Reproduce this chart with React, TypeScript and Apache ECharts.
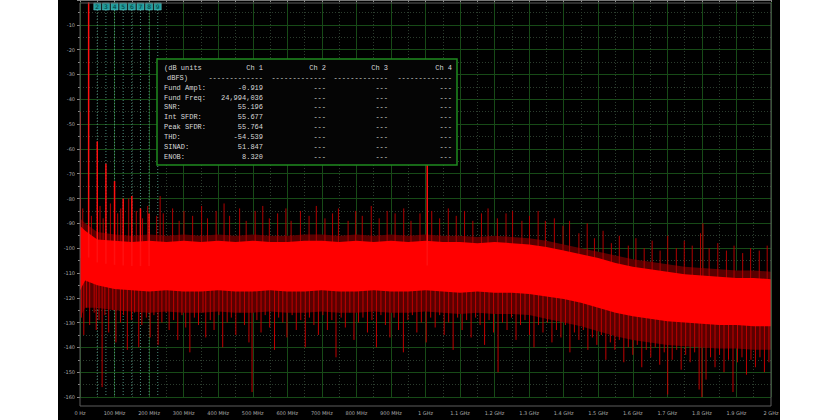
import React, { useEffect, useRef } from "react";
import * as echarts from "echarts";

// ---- axis ticks ----
const xTickLabels = ["0 Hz", "100 MHz", "200 MHz", "300 MHz", "400 MHz", "500 MHz", "600 MHz", "700 MHz", "800 MHz", "900 MHz", "1 GHz", "1.1 GHz", "1.2 GHz", "1.3 GHz", "1.4 GHz", "1.5 GHz", "1.6 GHz", "1.7 GHz", "1.8 GHz", "1.9 GHz", "2 GHz"];

// ---- noise floor envelope (MHz, dBFS) ----
const envFreq = [0, 15, 50, 100, 150, 200, 250, 300, 350, 400, 450, 500, 550, 600, 650, 700, 750, 800, 850, 900, 950, 1000, 1050, 1100, 1150, 1200, 1250, 1300, 1350, 1400, 1450, 1500, 1550, 1600, 1650, 1700, 1750, 1800, 1850, 1900, 1950, 2000];
const coreTop = [-91, -93, -96.5, -97, -97.5, -97, -97.5, -97, -97.5, -97, -97.5, -97, -97.5, -97.5, -97, -97, -97.5, -97, -97.5, -97, -97.5, -97, -97.5, -97.5, -98, -97.5, -98, -98.5, -99.5, -101, -102.5, -104, -106, -107.5, -108.5, -109.5, -110.5, -111, -111.5, -112, -112, -112.5];
const coreBot = [-117, -113, -115, -116.5, -117, -117.5, -117, -117.5, -117.5, -117, -117.5, -117.5, -117, -117.5, -117.5, -117, -117.5, -117.5, -117, -117.5, -117.5, -117, -117.5, -118, -117.5, -118, -118, -118.5, -119.5, -120.5, -122, -124, -126, -127.5, -128.5, -129.5, -130, -130.5, -131, -131, -131.5, -131.5];
const fringeTop = [-88, -90, -93.5, -94.5, -95, -94.5, -95, -94.5, -95, -94.5, -95, -94.5, -95, -95, -94.5, -94.5, -95, -94.5, -95, -94.5, -95, -94.5, -95, -95, -95.5, -95, -95.5, -96, -97, -98.5, -100, -101.5, -103, -104.5, -105.5, -106.5, -107.5, -108, -108.5, -109, -109, -109.5];
const fringeBot = [-128, -124, -124, -125, -125.5, -126, -125.5, -126, -126, -125.5, -126, -126, -125.5, -126, -126, -125.5, -126, -126, -125.5, -126, -126, -125.5, -126, -126.5, -126, -126.5, -126.5, -127, -128.5, -130, -131.5, -133.5, -135.5, -137, -138, -139, -139.5, -140, -140.5, -140.5, -141, -141];

// ---- tones: DC, fundamental, harmonics, large spur ----
const toneFreq = [0, 25, 50, 75, 100, 125, 150, 175, 200, 1005];
const toneLevel = [-45, -0.919, -57, -66, -73, -80, -79, -84, -86, -64];

// ---- spurs above the floor ----
const upFreq = [8, 33, 58, 67, 88, 109, 118, 141, 163, 181, 196, 222, 232, 241, 268, 287, 301, 326, 352, 369, 394, 417, 433, 462, 481, 507, 529, 548, 572, 596, 611, 638, 663, 684, 709, 731, 748, 776, 798, 817, 843, 866, 889, 912, 937, 958, 984, 1018, 1041, 1066, 1089, 1113, 1137, 1162, 1181, 1208, 1233, 1252, 1279, 1301, 1326, 1347, 1373, 1398, 1417, 1444, 1468, 1489, 1514, 1538, 1561, 1587, 1609, 1633, 1656, 1679, 1701, 1726, 1749, 1772, 1796, 1803, 1821, 1846, 1871, 1893, 1918, 1941, 1966, 1989];
const upLevel = [-84, -87, -83, -88, -82, -86, -84, -80, -85, -88, -83, -87, -79, -86, -84, -89, -85, -87, -83, -88, -85, -82, -87, -84, -89, -85, -83, -88, -86, -84, -89, -85, -87, -83, -88, -86, -84, -89, -85, -87, -83, -88, -85, -86, -84, -89, -86, -85, -88, -84, -87, -85, -89, -86, -84, -88, -86, -85, -89, -87, -85, -89, -88, -91, -89, -94, -90, -96, -93, -98, -95, -99, -96, -100, -97, -101, -95, -100, -97, -99, -94, -90, -100, -98, -101, -99, -102, -100, -101, -99];

// ---- dips below the floor ----
const downFreq = [4, 11, 19, 28, 41, 47, 55, 64, 72, 83, 95, 104, 117, 126, 137, 149, 158, 170, 179, 192, 203, 214, 226, 237, 249, 258, 271, 283, 295, 306, 318, 331, 343, 356, 364, 377, 388, 402, 413, 426, 438, 451, 463, 476, 489, 498, 512, 524, 536, 549, 563, 575, 587, 599, 614, 626, 639, 652, 664, 677, 690, 703, 716, 729, 741, 756, 768, 781, 793, 806, 819, 832, 845, 858, 871, 884, 897, 909, 922, 936, 949, 962, 975, 988, 1002, 1015, 1028, 1041, 1054, 1067, 1080, 1093, 1106, 1119, 1132, 1145, 1158, 1171, 1184, 1197, 1210, 1223, 1236, 1249, 1262, 1275, 1288, 1301, 1314, 1327, 1340, 1353, 1366, 1379, 1392, 1405, 1418, 1431, 1444, 1457, 1470, 1483, 1496, 1509, 1522, 1535, 1548, 1561, 1574, 1587, 1600, 1613, 1626, 1639, 1652, 1665, 1678, 1691, 1701, 1714, 1727, 1740, 1753, 1766, 1779, 1792, 1800, 1812, 1825, 1838, 1851, 1864, 1877, 1890, 1903, 1916, 1929, 1942, 1955, 1968, 1981, 1994];
const downLevel = [-128, -135, -124, -131, -126, -133, -129, -156, -127, -134, -125, -138, -130, -127, -141, -129, -126, -140, -131, -128, -136, -127, -139, -130, -126, -133, -129, -137, -127, -132, -142, -128, -131, -126, -136, -129, -133, -127, -140, -130, -128, -135, -126, -131, -138, -158, -129, -134, -127, -132, -141, -128, -130, -136, -127, -133, -129, -140, -128, -131, -135, -127, -133, -129, -144, -128, -132, -126, -137, -130, -128, -134, -129, -140, -127, -131, -136, -128, -133, -142, -129, -127, -134, -130, -138, -128, -132, -127, -135, -130, -141, -128, -133, -129, -136, -128, -131, -139, -129, -134, -150, -130, -133, -128, -137, -131, -129, -135, -140, -131, -134, -130, -138, -133, -136, -131, -142, -134, -137, -133, -141, -136, -139, -135, -145, -138, -141, -137, -146, -140, -143, -139, -148, -141, -144, -140, -147, -142, -159, -145, -141, -149, -143, -146, -142, -157, -160, -153, -144, -148, -143, -150, -145, -158, -146, -144, -151, -145, -148, -144, -150, -146];

// ---- harmonic markers ----
const markerFreq = [50, 75, 100, 125, 150, 175, 200, 225];
const markerLabel = ["2", "3", "4", "5", "6", "7", "8", "9"];

// ---- results table ----
const channelNames = ["Ch 1", "Ch 2", "Ch 3", "Ch 4"];
const rowLabels = ["Fund Ampl:", "Fund Freq:", "SNR:", "Int SFDR:", "Peak SFDR:", "THD:", "SINAD:", "ENOB:"];
const ch1Values = ["-0.919", "24,994,036", "55.196", "55.677", "55.764", "-54.539", "51.847", "8.320"];
const otherChValue = "---";

function bandMid(f: number): number {
  for (let i = 0; i < envFreq.length - 1; i++) {
    if (f >= envFreq[i] && f <= envFreq[i + 1]) {
      const t = (f - envFreq[i]) / (envFreq[i + 1] - envFreq[i]);
      const a = (coreTop[i] + coreBot[i]) / 2;
      const b = (coreTop[i + 1] + coreBot[i + 1]) / 2;
      return a + (b - a) * t;
    }
  }
  return (coreTop[coreTop.length - 1] + coreBot[coreBot.length - 1]) / 2;
}

function bandSeries(top: number[], bot: number[], color: string, z: number) {
  return {
    type: "custom",
    silent: true,
    z,
    clip: true,
    data: [[0, top[0]]],
    renderItem: (_p: any, api: any) => {
      const pts: number[][] = [];
      for (let i = 0; i < envFreq.length; i++) pts.push(api.coord([envFreq[i], top[i]]));
      for (let i = envFreq.length - 1; i >= 0; i--) pts.push(api.coord([envFreq[i], bot[i]]));
      return { type: "polygon", shape: { points: pts }, style: { fill: color, stroke: "none" } };
    },
  };
}

function spikeSeries(freqs: number[], levels: number[], color: string, width: number, z: number) {
  return {
    type: "custom",
    silent: true,
    z,
    clip: true,
    data: freqs.map((f, i) => [f, levels[i]]),
    renderItem: (_p: any, api: any) => {
      const f = api.value(0);
      const lv = api.value(1);
      const p1 = api.coord([f, bandMid(f)]);
      const p2 = api.coord([f, lv]);
      return {
        type: "line",
        shape: { x1: p1[0], y1: p1[1], x2: p2[0], y2: p2[1] },
        style: { stroke: color, lineWidth: width },
      };
    },
  };
}

export default function App() {
  const ref = useRef<HTMLDivElement>(null);

  useEffect(() => {
    if (!ref.current) return;
    const chart = echarts.init(ref.current, null, { renderer: "svg" });

    const mono = '"Liberation Mono", "DejaVu Sans Mono", monospace';
    const textColor = "#d8d8d8";
    const boxX = 157, boxY = 59, boxW = 300, boxH = 106;
    const labelX = 164;
    const colRight = [263, 326, 388, 452];
    const rowY0 = 68, rowStep = 9.85;

    const tableEls: any[] = [
      { type: "rect", shape: { x: boxX, y: boxY, width: boxW, height: boxH }, style: { fill: "#050505", stroke: "#1f8a1f", lineWidth: 1.5 }, z: 100 },
      { type: "text", x: labelX, y: rowY0, style: { text: "(dB units", fill: textColor, font: `7px ${mono}`, textVerticalAlign: "middle" }, z: 101 },
      { type: "text", x: labelX + 3, y: rowY0 + rowStep, style: { text: "dBFS)", fill: textColor, font: `7px ${mono}`, textVerticalAlign: "middle" }, z: 101 },
    ];
    channelNames.forEach((c, j) => {
      tableEls.push({ type: "text", x: colRight[j], y: rowY0, style: { text: c, fill: textColor, font: `7px ${mono}`, textAlign: "right", textVerticalAlign: "middle" }, z: 101 });
      tableEls.push({ type: "text", x: colRight[j], y: rowY0 + rowStep, style: { text: "-------------", fill: textColor, font: `7px ${mono}`, textAlign: "right", textVerticalAlign: "middle" }, z: 101 });
    });
    rowLabels.forEach((lab, i) => {
      const y = rowY0 + rowStep * (i + 2);
      tableEls.push({ type: "text", x: labelX, y, style: { text: lab, fill: textColor, font: `7px ${mono}`, textVerticalAlign: "middle" }, z: 101 });
      tableEls.push({ type: "text", x: colRight[0], y, style: { text: ch1Values[i], fill: textColor, font: `7px ${mono}`, textAlign: "right", textVerticalAlign: "middle" }, z: 101 });
      for (let j = 1; j < 4; j++) {
        tableEls.push({ type: "text", x: colRight[j], y, style: { text: otherChValue, fill: textColor, font: `7px ${mono}`, textAlign: "right", textVerticalAlign: "middle" }, z: 101 });
      }
    });

    const option: any = {
      animation: false,
      backgroundColor: "transparent",
      grid: { left: 80, right: 69, top: 0, bottom: 23, containLabel: false, outerBoundsMode: "none" },
      xAxis: {
        type: "value",
        min: 0,
        max: 2000,
        interval: 100,
        offset: 9,
        axisLine: { show: true, lineStyle: { color: "#777", width: 1 } },
        axisTick: { show: true, length: 2, lineStyle: { color: "#888" } },
        minorTick: { show: true, splitNumber: 2, length: 2, lineStyle: { color: "#888" } },
        axisLabel: {
          color: "#aaa",
          fontSize: 5,
          margin: 4,
          fontFamily: "DejaVu Sans",
          formatter: (v: number) => xTickLabels[Math.round(v / 100)] ?? "",
        },
        splitLine: { show: true, lineStyle: { color: "#174a17", width: 1 } },
        minorSplitLine: { show: true, lineStyle: { color: "#2c3c2e", width: 1, type: [1, 2] } },
      },
      yAxis: {
        type: "value",
        min: -160,
        max: 0,
        interval: 10,
        axisLine: { show: false },
        axisTick: { show: true, length: 3, lineStyle: { color: "#888" } },
        minorTick: { show: true, splitNumber: 2, length: 2, lineStyle: { color: "#888" } },
        axisLabel: {
          color: "#aaa",
          fontSize: 5,
          margin: 5,
          fontFamily: "DejaVu Sans",
          showMaxLabel: false,
          formatter: (v: number) => (v === 0 ? "" : String(v)),
        },
        splitLine: { show: true, showMaxLine: false, lineStyle: { color: "#174a17", width: 1 } },
        minorSplitLine: { show: true, lineStyle: { color: "#2c3c2e", width: 1, type: [1, 2] } },
      },
      series: [
        {
          type: "custom",
          silent: true,
          z: 1,
          clip: false,
          data: markerFreq.map((f, i) => [f, i]),
          renderItem: (_p: any, api: any) => {
            const f = api.value(0);
            const idx = api.value(1);
            const top = api.coord([f, 0]);
            const bot = api.coord([f, -160]);
            return {
              type: "group",
              children: [
                { type: "line", shape: { x1: top[0], y1: top[1] + 10, x2: bot[0], y2: bot[1] }, style: { stroke: "#4a8a7c", lineWidth: 1, lineDash: [1, 2] } },
                { type: "rect", shape: { x: top[0] - 3.5, y: 3, width: 7, height: 7 }, style: { fill: "#1f9a9a", stroke: "#6ad0d0", lineWidth: 0.5 } },
                { type: "text", x: top[0], y: 6.7, style: { text: markerLabel[idx], fill: "#063a3a", font: '6px "DejaVu Sans"', textAlign: "center", textVerticalAlign: "middle" } },
              ],
            };
          },
        },
        bandSeries(fringeTop, fringeBot, "#5a0000", 3),
        spikeSeries(downFreq, downLevel, "#c00000", 1, 4),
        spikeSeries(upFreq, upLevel, "#b00000", 1, 4),
        bandSeries(coreTop, coreBot, "#ff0000", 5),
        spikeSeries(toneFreq, toneLevel, "#ff1010", 1.5, 6),
      ],
      graphic: [
        { type: "rect", shape: { x: 80, y: 3, width: 691, height: 403 }, style: { fill: "none", stroke: "#5c5c5c", lineWidth: 1 }, z: 50 },
        ...tableEls,
      ],
    };

    chart.setOption(option);
    return () => chart.dispose();
  }, []);

  return (
    <div
      ref={ref}
      style={{
        position: "fixed",
        left: 0,
        top: 0,
        width: 840,
        height: 420,
        background: "linear-gradient(to right, #fff 0px, #fff 58px, #000 58px, #000 780px, #fff 780px, #fff 840px)",
      }}
    />
  );
}
